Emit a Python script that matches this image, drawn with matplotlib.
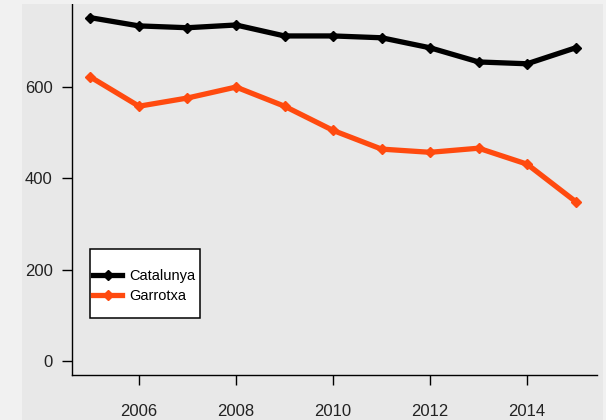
import matplotlib.pyplot as plt
from matplotlib.patches import Rectangle

# datos
anys = [2005, 2006, 2007, 2008, 2009, 2010, 2011, 2012, 2013, 2014, 2015]
catalunya = [752, 734, 730, 736, 712, 712, 708, 686, 655, 651, 686]
garrotxa = [622, 558, 576, 600, 558, 505, 464, 457, 466, 431, 349]
xticks = [2006, 2008, 2010, 2012, 2014]
yticks = [0, 200, 400, 600]

plt.rcParams['font.family'] = ['Liberation Sans Narrow', 'Liberation Sans', 'DejaVu Sans']

fons = '#e8e8e8'
fig = plt.figure(figsize=(6.06, 4.2), dpi=100, facecolor=fons)
# franges clares de la captura
fig.patches.append(Rectangle((0, 0), 22 / 606, 1, transform=fig.transFigure,
                             facecolor='#f1f1f1', edgecolor='none', zorder=0))
fig.patches.append(Rectangle((0, 1 - 4 / 420), 1, 4 / 420, transform=fig.transFigure,
                             facecolor='#f1f1f1', edgecolor='none', zorder=0))
fig.patches.append(Rectangle((603 / 606, 0), 3 / 606, 1, transform=fig.transFigure,
                             facecolor='#f1f1f1', edgecolor='none', zorder=0))

ax = fig.add_axes([72 / 606, 1 - 375 / 420, 525 / 606, 371 / 420])
ax.set_facecolor(fons)

ax.plot(anys, catalunya, color='black', lw=3.8, marker='D', ms=5.5, label='Catalunya')
ax.plot(anys, garrotxa, color='#ff4a0f', lw=3.8, marker='D', ms=5.5, label='Garrotxa')

ax.set_xlim(2004.62, 2015.44)
ax.set_ylim(-31, 782)
ax.set_xticks(xticks)
ax.set_yticks(yticks)

for s in ['top', 'right']:
    ax.spines[s].set_visible(False)
for s in ['left', 'bottom']:
    ax.spines[s].set_color('black')
    ax.spines[s].set_linewidth(1.0)

ax.tick_params(axis='both', length=7, width=1, color='black', labelcolor='#222222',
               labelsize=12)
ax.tick_params(axis='x', pad=14)
ax.tick_params(axis='y', pad=7)

# caixa de la llegenda
ax.add_patch(Rectangle((18 / 525, 57 / 371), 110 / 525, 69 / 371, transform=ax.transAxes,
                       facecolor='white', edgecolor='black', lw=1.1, zorder=3))
ax.legend(loc='center left', bbox_to_anchor=(21 / 525, 89 / 371), frameon=False,
          fontsize=10.5, borderpad=0, borderaxespad=0, handlelength=2.0,
          handletextpad=0.5, labelspacing=0.45).set_zorder(4)

plt.savefig('out.png', dpi=100, facecolor=fons)
